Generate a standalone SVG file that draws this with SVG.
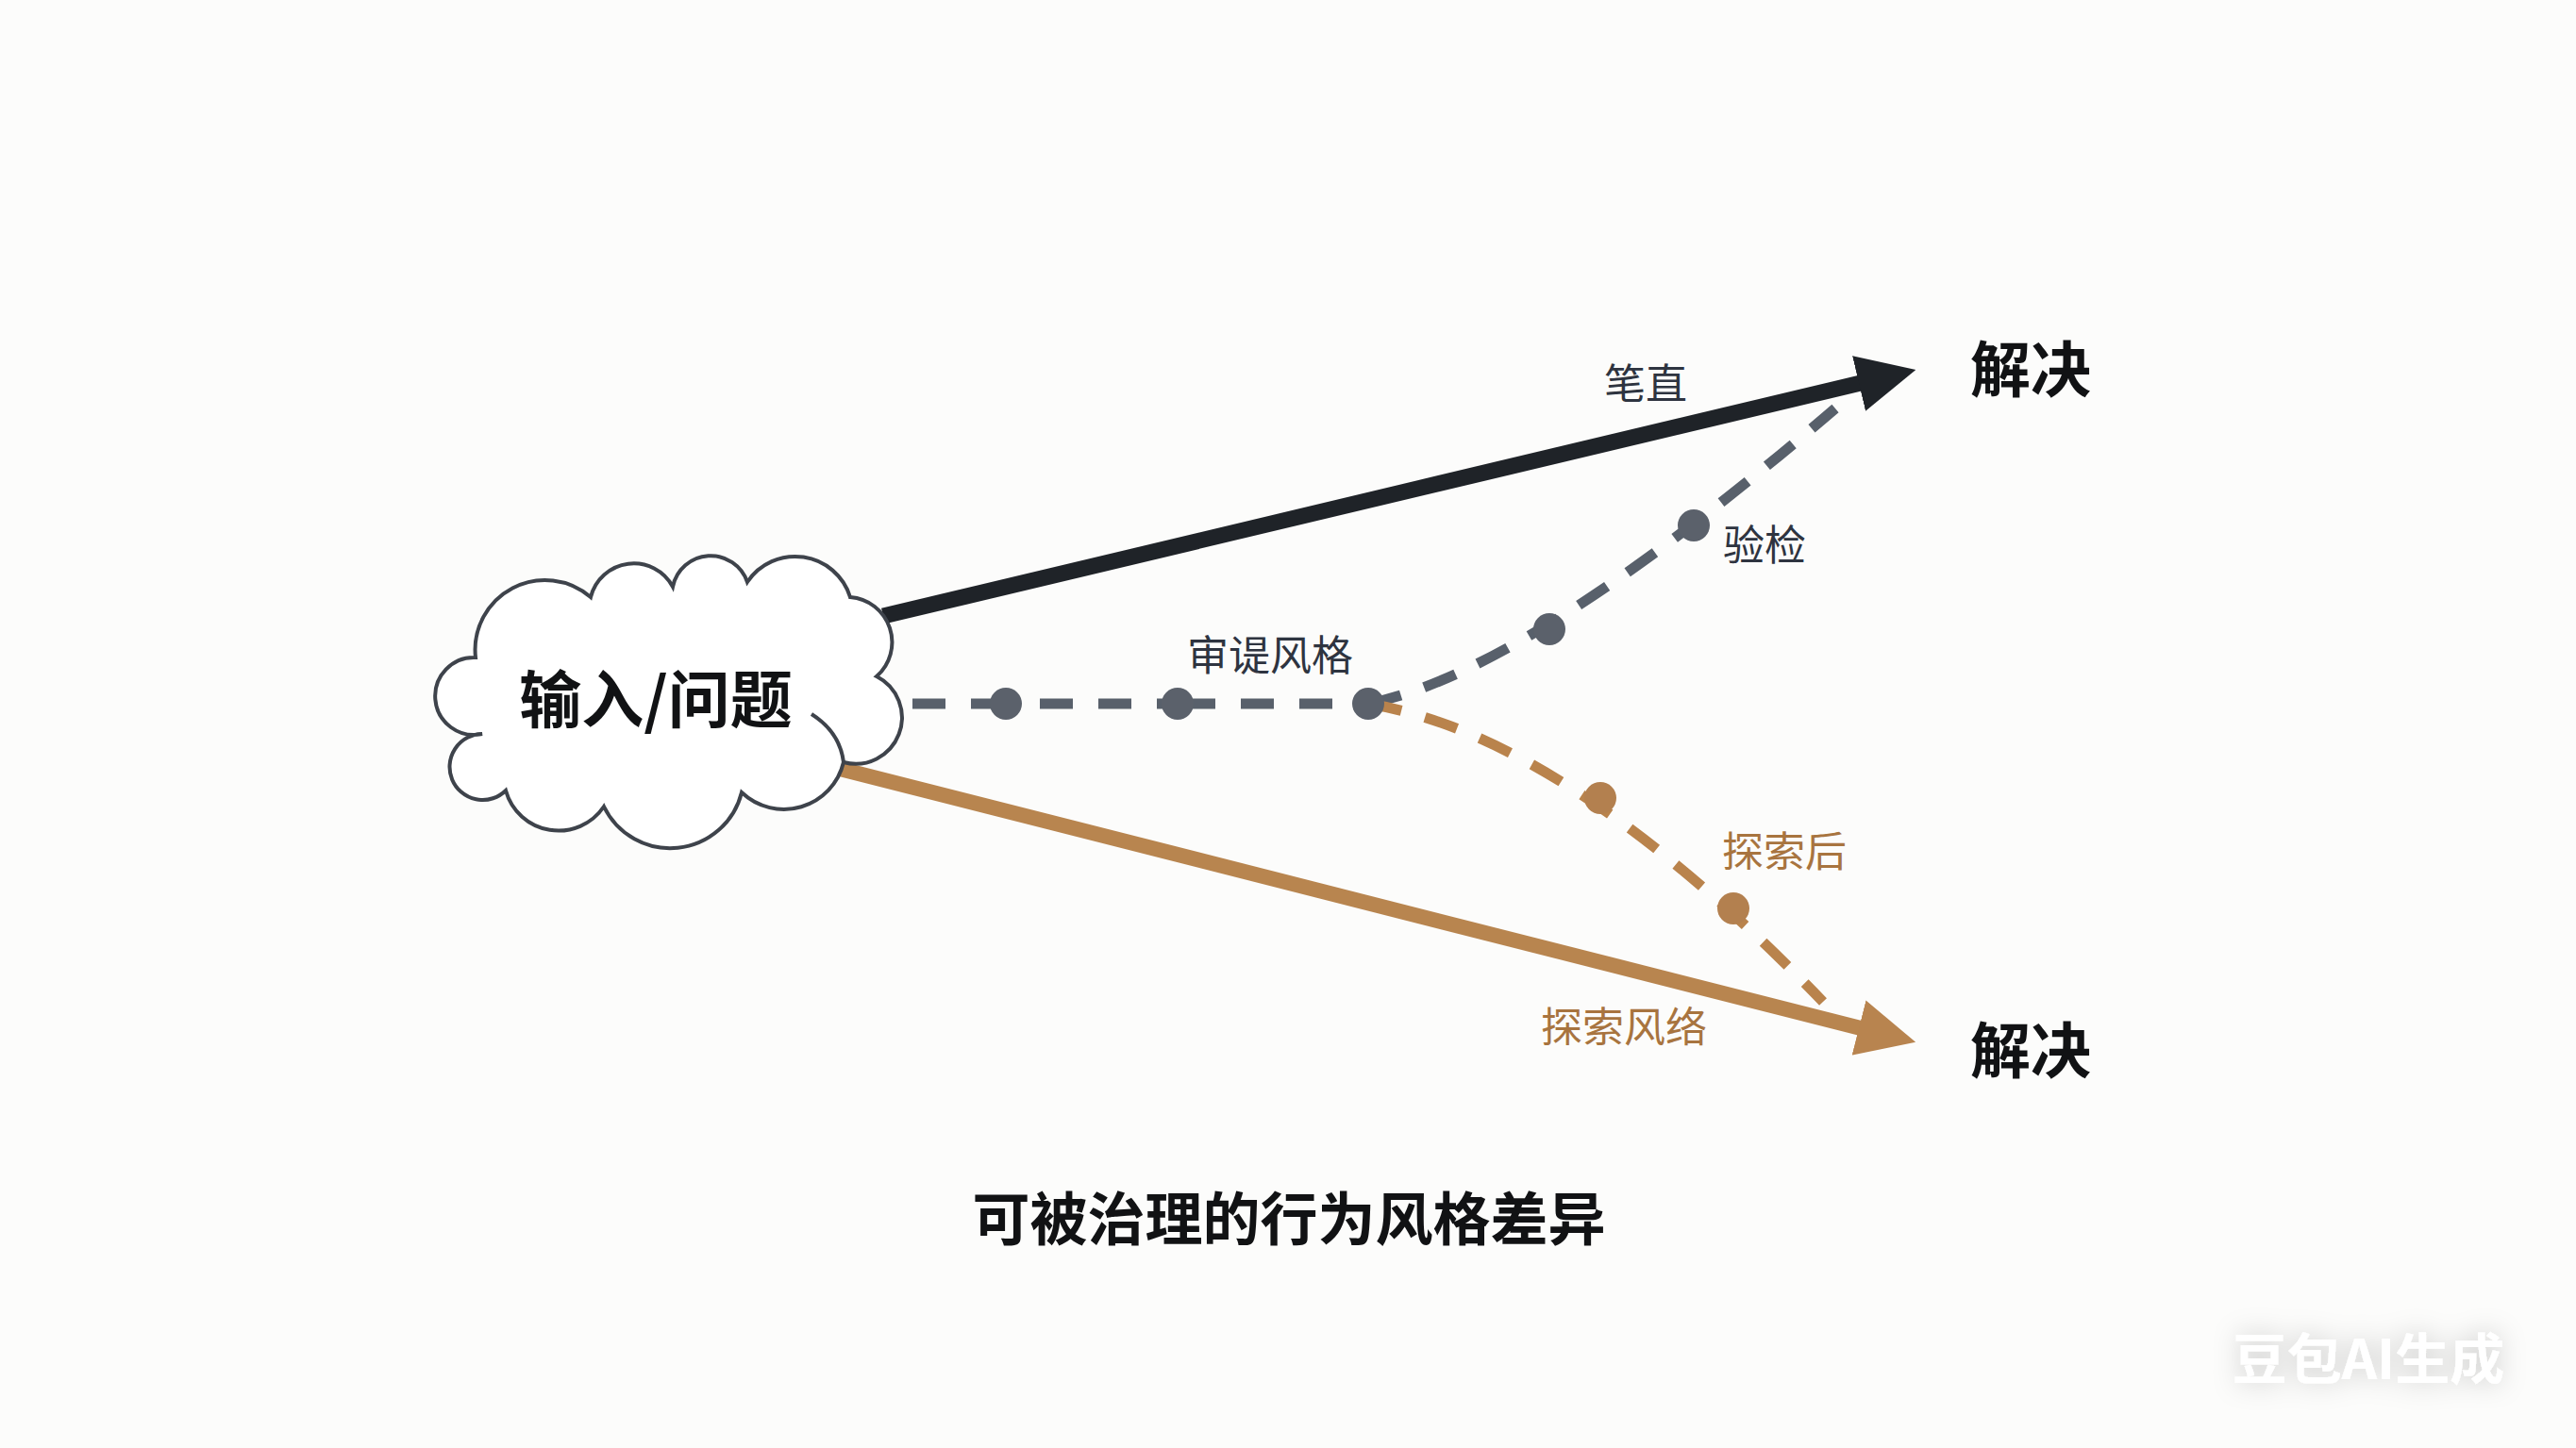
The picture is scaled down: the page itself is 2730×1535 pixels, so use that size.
<svg xmlns="http://www.w3.org/2000/svg" width="2730" height="1535" viewBox="0 0 2730 1535">
  <style>
    .lbl { font-family: "Noto Sans CJK SC", "Noto Sans", sans-serif; text-anchor: middle; dominant-baseline: central; }
    .bold { font-weight: 700; fill: #111214; }
    .gray { font-size: 44px; fill: #2e3440; }
    .brown { font-size: 44px; fill: #a8743f; }
    .dash-gray { fill: none; stroke: #58606b; stroke-width: 11; stroke-dasharray: 36 26; }
    .dash-brown { fill: none; stroke: #b9834c; stroke-width: 11; stroke-dasharray: 36 26; }
    .dot-gray { fill: #5b616b; }
    .dot-brown { fill: #b3804f; }
  </style>
  <defs>
    <marker id="headBlack" markerUnits="userSpaceOnUse" viewBox="0 -30 62 60" markerWidth="62" markerHeight="60" refX="2" refY="0" orient="auto">
      <path d="M0,-30 L62,0 L0,30 Z" fill="#1f2328"/>
    </marker>
    <marker id="headBrown" markerUnits="userSpaceOnUse" viewBox="0 -30 62 60" markerWidth="62" markerHeight="60" refX="2" refY="0" orient="auto">
      <path d="M0,-30 L62,0 L0,30 Z" fill="#b8844f"/>
    </marker>
    <filter id="wmShadow" x="-20%" y="-50%" width="140%" height="200%">
      <feGaussianBlur in="SourceAlpha" stdDeviation="14" result="b"/>
      <feFlood flood-color="#000" flood-opacity="0.2"/>
      <feComposite in2="b" operator="in" result="s"/>
      <feMerge><feMergeNode in="s"/><feMergeNode in="SourceGraphic"/></feMerge>
    </filter>
  </defs>

  <rect width="2730" height="1535" fill="#fcfcfb"/>

  <g id="connectors">
    <line id="edge-straight" x1="936" y1="653" x2="1972" y2="406" stroke="#1f2328" stroke-width="17" marker-end="url(#headBlack)"/>
    <line id="edge-explore" x1="890" y1="815" x2="1972" y2="1090" stroke="#b8854f" stroke-width="16" marker-end="url(#headBrown)"/>
    <path id="edge-careful" d="M967,746 h35 M1029,746 h37 M1102,746 h35 M1164,746 h35 M1226,746 h62 M1315,746 h35 M1377,746 h35" fill="none" stroke="#58606b" stroke-width="11"/>
    <path id="edge-verify" class="dash-gray" d="M1450,746 Q1620,712 1945,433"/>
    <path id="edge-after" class="dash-brown" d="M1450,746 Q1660,780 1932,1062"/>
  </g>

  <g id="node-input">
    <path d="M504,697 A74,74 0 0 1 626,633 A47,47 0 0 1 713,622 A41,41 0 0 1 792,617 A61,61 0 0 1 901,633 A48,48 0 0 1 929,717 A49,49 0 0 1 894,808 A65,65 0 0 1 786,840 A78,78 0 0 1 640,855 A58,58 0 0 1 536,838 A35,35 0 1 1 511,778 A41,41 0 1 1 504,697 Z" fill="#ffffff" stroke="#3e434b" stroke-width="4"/>
    <path d="M860,757 Q890,776 894,808" fill="none" stroke="#3e434b" stroke-width="4"/>
    <text class="lbl bold" x="695" y="737" font-size="66">输入/问题</text>
  </g>

  <g id="dots">
    <circle class="dot-gray" cx="1066" cy="746" r="17"/>
    <circle class="dot-gray" cx="1248" cy="746" r="17"/>
    <circle class="dot-gray" cx="1450" cy="746" r="17"/>
    <circle class="dot-gray" cx="1642" cy="667" r="17"/>
    <circle class="dot-gray" cx="1795" cy="557" r="17"/>
    <circle class="dot-brown" cx="1696" cy="846" r="17"/>
    <circle class="dot-brown" cx="1837" cy="963" r="17"/>
  </g>

  <g id="labels">
    <text class="lbl gray" x="1744" y="404">笔直</text>
    <text class="lbl gray" x="1870" y="575">验检</text>
    <text class="lbl gray" x="1346" y="692">审𬤊风格</text>
    <text class="lbl brown" x="1891" y="900">探索后</text>
    <text class="lbl brown" x="1721" y="1086">探索风络</text>
  </g>

  <g id="node-solve-top">
    <text class="lbl bold" x="2152" y="387" font-size="64">解决</text>
  </g>
  <g id="node-solve-bottom">
    <text class="lbl bold" x="2152" y="1109" font-size="64">解决</text>
  </g>

  <g id="title">
    <text class="lbl bold" x="1366" y="1288" font-size="61">可被治理的行为风格差异</text>
  </g>

  <g id="watermark" filter="url(#wmShadow)">
    <text class="lbl" x="2510" y="1437" font-size="58" font-weight="700" fill="#ffffff">豆包AI生成</text>
  </g>
</svg>
